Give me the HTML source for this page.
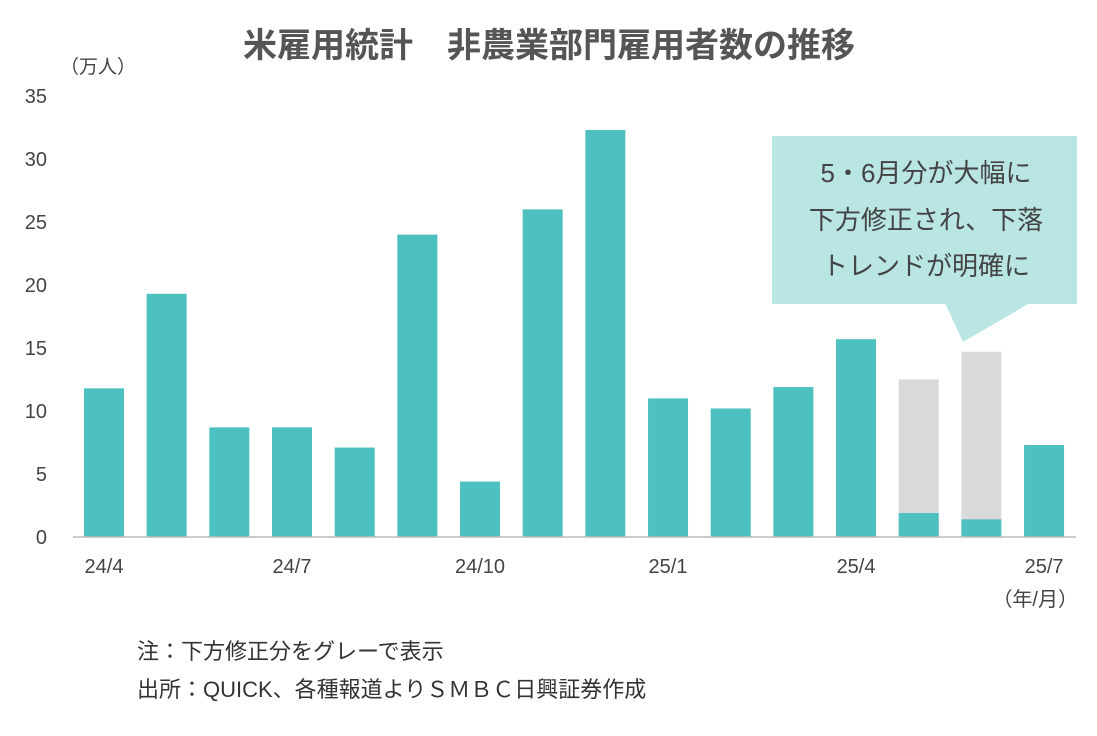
<!DOCTYPE html>
<html><head><meta charset="utf-8">
<style>
body{margin:0;background:#fff;}
svg{display:block;font-family:"Liberation Sans","Noto Sans CJK JP",sans-serif;}
</style></head>
<body>
<svg id="chart" width="1097" height="736" viewBox="0 0 1097 736">
<text x="549" y="57" text-anchor="middle" font-size="34" font-weight="bold" fill="#555">米雇用統計　非農業部門雇用者数の推移</text>
<text x="60" y="73" font-size="19" fill="#444">（万人）</text>
<g id="yticks"></g>
<g id="bars"></g>
<line x1="73" y1="537" x2="1076" y2="537" stroke="#bbb" stroke-width="1.5"/>
<g id="xticks"></g>
<text x="1078" y="606" text-anchor="end" font-size="20" fill="#444">（年/月）</text>
<g>
<rect x="772" y="136" width="305" height="168" fill="#b9e5e3"/>
<polygon points="945,303 1030,303 963,342" fill="#b9e5e3"/>
<text x="926" y="182" text-anchor="middle" font-size="26" fill="#444">5・6月分が大幅に</text>
<text x="926" y="229" text-anchor="middle" font-size="26" fill="#444">下方修正され、下落</text>
<text x="926" y="275" text-anchor="middle" font-size="26" fill="#444">トレンドが明確に</text>
</g>
<text x="137" y="659" font-size="22" fill="#333">注：下方修正分をグレーで表示</text>
<text x="137" y="697" font-size="22" fill="#333">出所：QUICK、各種報道よりＳＭＢＣ日興証券作成</text>
</svg>
<script>
const categories=["24/4","24/5","24/6","24/7","24/8","24/9","24/10","24/11","24/12","25/1","25/2","25/3","25/4","25/5","25/6","25/7"];
const values=[11.8,19.3,8.7,8.7,7.1,24.0,4.4,26.0,32.3,11.0,10.2,11.9,15.7,1.9,1.4,7.3];
const revisedFrom=[null,null,null,null,null,null,null,null,null,null,null,null,null,12.5,14.7,null];
const xLabels=["24/4","24/7","24/10","25/1","25/4","25/7"];
const yTicks=[0,5,10,15,20,25,30,35];
const NS="http://www.w3.org/2000/svg";
const y=v=>537-v*12.6;
const x=i=>104+i*62.67;
const bw=40;
const bars=document.getElementById('bars');
function mk(tag,attrs){const e=document.createElementNS(NS,tag);for(const k in attrs)e.setAttribute(k,attrs[k]);return e;}
categories.forEach((c,i)=>{
  if(revisedFrom[i]!==null){
    const g=mk('rect',{x:x(i)-bw/2,y:y(revisedFrom[i]),width:bw,height:y(0)-y(revisedFrom[i]),fill:'#d9d9d9'});
    
    
    bars.appendChild(g);
  }
  const r=mk('rect',{x:x(i)-bw/2,y:y(values[i]),width:bw,height:y(0)-y(values[i]),fill:'#4dc0c0'});
  
  
  bars.appendChild(r);
});
const yt=document.getElementById('yticks');
yTicks.forEach(v=>{
  const t=mk('text',{x:47,y:y(v)+7,'text-anchor':'end','font-size':20,fill:'#444'});
  t.textContent=v;
  
  
  yt.appendChild(t);
});
const xt=document.getElementById('xticks');
xLabels.forEach(l=>{
  const i=categories.indexOf(l);
  const t=mk('text',{x:x(i),y:573,'text-anchor':'middle','font-size':20,fill:'#444'});
  t.textContent=l;
  
  
  xt.appendChild(t);
});
</script>
</body></html>
